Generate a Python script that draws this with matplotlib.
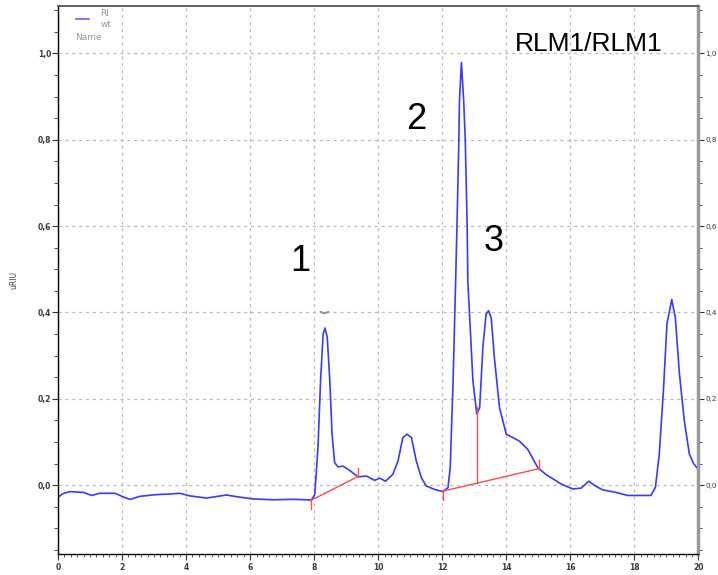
import matplotlib
matplotlib.use("Agg")
from matplotlib import pyplot as plt
from matplotlib.ticker import MultipleLocator, FuncFormatter

# chromatogram trace (time in min, signal in uRIU)
time = [0.00, 0.15, 0.37, 0.80, 1.05, 1.30, 1.78, 2.09, 2.25, 2.56, 3.08, 3.39,
        3.81, 4.12, 4.64, 5.26, 5.68, 6.09, 6.72, 7.34, 7.76, 7.91, 8.02, 8.12,
        8.20, 8.28, 8.34, 8.41, 8.49, 8.56, 8.64, 8.75, 8.90, 9.11, 9.37, 9.63,
        9.89, 10.05, 10.23, 10.46, 10.62, 10.77, 10.90, 11.04, 11.19, 11.35,
        11.50, 11.76, 12.02, 12.18, 12.25, 12.34, 12.42, 12.46, 12.52, 12.54,
        12.60, 12.67, 12.72, 12.78, 12.80, 12.88, 12.96, 13.08, 13.17, 13.27,
        13.37, 13.45, 13.53, 13.63, 13.79, 14.00, 14.21, 14.41, 14.67, 14.99,
        15.25, 15.45, 15.66, 15.82, 16.08, 16.34, 16.58, 16.76, 17.01, 17.43,
        17.79, 18.16, 18.52, 18.66, 18.78, 18.91, 19.02, 19.17, 19.28, 19.41,
        19.56, 19.72, 19.85, 19.98]
signal = [-0.028, -0.020, -0.015, -0.017, -0.024, -0.019, -0.019, -0.029, -0.033,
          -0.026, -0.022, -0.021, -0.019, -0.025, -0.030, -0.023, -0.028, -0.032,
          -0.034, -0.033, -0.034, -0.035, -0.022, 0.087, 0.241, 0.350, 0.364,
          0.342, 0.241, 0.118, 0.052, 0.042, 0.044, 0.034, 0.019, 0.021, 0.011,
          0.016, 0.009, 0.025, 0.056, 0.110, 0.118, 0.110, 0.056, 0.017, -0.002,
          -0.010, -0.015, -0.006, 0.040, 0.241, 0.473, 0.598, 0.800, 0.892,
          0.979, 0.892, 0.800, 0.598, 0.473, 0.357, 0.241, 0.165, 0.179, 0.319,
          0.396, 0.404, 0.388, 0.295, 0.179, 0.118, 0.110, 0.102, 0.083, 0.040,
          0.024, 0.015, 0.005, -0.001, -0.009, -0.007, 0.009, -0.001, -0.011,
          -0.017, -0.024, -0.024, -0.024, -0.005, 0.072, 0.219, 0.374, 0.430,
          0.389, 0.258, 0.150, 0.072, 0.050, 0.038]

# integration baselines (start/end time and level)
base_t0 = [7.91, 12.02]
base_y0 = [-0.035, -0.014]
base_t1 = [9.37, 15.02]
base_y1 = [0.020, 0.038]
drop_t = 13.09
drop_top = 0.181

peak_labels = ["1", "2", "3"]
peak_label_t = [7.58, 11.18, 13.61]
peak_label_y = [0.518, 0.846, 0.564]
title_text = "RLM1/RLM1"

fig = plt.figure(figsize=(7.18, 5.75), dpi=100)
ax = fig.add_axes([0.0808, 0.0370, 0.8918, 0.9526])

ax.plot(time, signal, color="#3a3aff", lw=1.2)

red = "#ff4a4a"
for t0, y0, t1, y1 in zip(base_t0, base_y0, base_t1, base_y1):
    ax.plot([t0, t1], [y0, y1], color=red, lw=1)
    ax.plot([t0, t0], [y0, y0 - 0.021], color=red, lw=1)
    ax.plot([t1, t1], [y1, y1 + 0.019], color=red, lw=1)
frac = (drop_t - base_t0[1]) / (base_t1[1] - base_t0[1])
drop_bottom = base_y0[1] + frac * (base_y1[1] - base_y0[1])
ax.plot([drop_t, drop_t], [drop_bottom, drop_top], color=red, lw=1)

# small gray apex mark above peak 1
ax.plot(8.31, 0.40, marker=r"$\smile$", color="#999999", ms=6)

for lab, t, y in zip(peak_labels, peak_label_t, peak_label_y):
    ax.text(t, y, lab, fontsize=26, ha="center", va="center",
            family="Liberation Sans")
ax.text(16.57, 1.021, title_text, fontsize=19, ha="center", va="center",
        family="Liberation Sans")

ax.set_xlim(0, 20)
ax.set_ylim(-0.159, 1.110)
ax.xaxis.set_major_locator(MultipleLocator(2))
ax.xaxis.set_minor_locator(MultipleLocator(0.2))
ax.yaxis.set_major_locator(MultipleLocator(0.2))
ax.yaxis.set_minor_locator(MultipleLocator(0.05))
comma = FuncFormatter(lambda v, p: f"{v:.1f}".replace(".", ",").replace("-0,0", "0,0"))
ax.yaxis.set_major_formatter(comma)
ax.xaxis.set_major_formatter(FuncFormatter(lambda v, p: f"{v:.0f}"))

ax.tick_params(axis="both", which="both", direction="out", labelsize=5.5,
               labelcolor="#3a3a3a", color="#333333")
ax.tick_params(axis="y", which="both", right=True, labelright=True)
ax.tick_params(axis="y", which="major", length=4.5, pad=1.5)
ax.tick_params(axis="y", which="minor", length=3)
ax.tick_params(axis="x", which="major", length=4, pad=3)
ax.tick_params(axis="x", which="minor", length=2.3)
for lab in ax.get_xticklabels() + ax.get_yticklabels():
    lab.set_fontweight("bold")
# right-hand labels sit tight against the figure edge
for tick in ax.yaxis.get_major_ticks():
    tick.tick2line.set_markersize(3)
    tick.set_pad(0.5)
    tick.label2.set_fontweight("normal")
    tick.label2.set_fontsize(5.2)
for tick in ax.yaxis.get_major_ticks():
    tick.label1.set_fontweight("bold")

ax.grid(True, which="major", color="#bcbcbc", linestyle=(0, (2.5, 3)), lw=0.9)

ax.spines["right"].set_color("#9a9a9a")
ax.spines["right"].set_linewidth(2.5)
ax.spines["top"].set_color("#555555")
ax.spines["top"].set_linewidth(1.3)
ax.spines["left"].set_linewidth(1.0)
ax.spines["bottom"].set_linewidth(1.0)

ax.set_ylabel("uRIU", fontsize=5.5, color="#444444", labelpad=14)

# legend box, top left
ax.plot([0.55, 0.98], [1.080, 1.080], color="#6060ff", lw=1.2, clip_on=False)
ax.text(1.33, 1.092, "RI", fontsize=6.5, color="#999999", va="center")
ax.text(1.33, 1.066, "wt", fontsize=6.5, color="#999999", va="center")
ax.text(0.55, 1.038, "Name", fontsize=6.5, color="#999999", va="center")

fig.savefig("out.png", dpi=100)
